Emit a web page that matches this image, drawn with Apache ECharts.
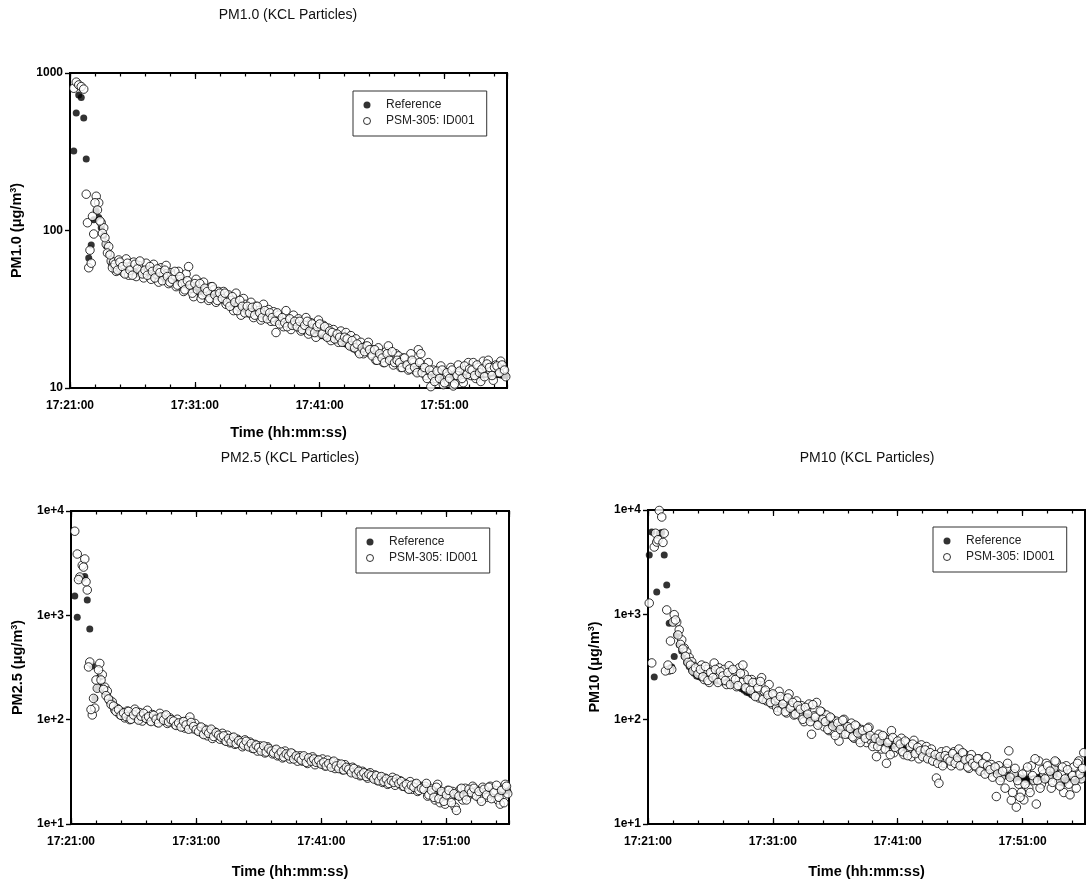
<!DOCTYPE html>
<html><head><meta charset="utf-8">
<script src="https://cdn.jsdelivr.net/npm/echarts@6/dist/echarts.min.js"></script>
<style>html,body{margin:0;padding:0;background:#fff}#c{width:1086px;height:883px}</style>
</head><body><div id="c"></div>
<script>
// ---------- data ----------
const clockStart = '17:21:00';        // x axis origin
const xMaxMinutes = 35;               // axis extent in minutes after clockStart
const sampleStepSec = 12;             // sampling step of each value list, seconds
const startSecA = 6;                  // first sample of the reference lists and PSM "A" lists
const startSecB = 12;                 // first sample of the interleaved PSM "B" lists
const seriesNames = ['Reference', 'PSM-305: ID001'];
const panelTitles = ['PM1.0 (KCL Particles)', 'PM2.5 (KCL Particles)', 'PM10 (KCL Particles)'];
const yNames = ['PM1.0 (μg/m{s|3})', 'PM2.5 (μg/m{s|3})', 'PM10 (μg/m{s|3})'];
const xName = 'Time (hh:mm:ss)';

const pm1Reference = [null,
320, 557, 725, 700, 518, 284, 67, 81, 117, 133,
121, 104, 93, 80, 71, 62, 58, 56, 55, 56,
54, 55, 53, 55, 54, 55, 53, 54, 52, 53,
52, 53, 51, 51, 52, 50, 50, 49, 49, 48,
48, 47, 47, 46, 45, 45, 44, 43, 43, 42,
41, 41, 40, 40, 39, 39, 38, 37.5, 37, 37,
36, 35.5, 35, 35, 34, 33.5, 33, 32.5, 32, 32,
31, 30.5, 30, 30, 29.5, 29, 28.5, 28.5, 28, 27.5,
27.5, 27, 26.5, 26.5, 26, 25.5, 25.5, 25, 24.5, 24.5,
24, 24, 23.5, 23, 23, 22.5, 22.5, 22, 22, 21.5,
21.5, 21, 21, 20.5, 20.5, 20, 19.8, 19.5, 19.3, 19,
18.8, 18.5, 18.3, 18, 17.8, 17.6, 17.4, 17.3, 17.1, 17,
16.8, 16.5, 16.2, 16, 15.8, 15.5, 15.3, 15.1, 14.9, 14.7,
14.5, 14.3, 14.1, 14, 13.9, 13.8, 13.7, 13.6, 13.5, 13.3,
13.1, 12.9, 12.7, 12.5, 12.3, 12.1, 12, 11.9, 11.8, 11.7,
11.7, 11.8, 12, 12.1, 12.2, 12.1, 12, 11.9, 12.1, 12.2,
12.3, 12.1, 12, 11.9, 12.1, 12.3, 12.2, 12, 11.9, 12.1,
12.2, 12.1, 12, 12];

const pm1PsmA = [null,
800, 875, 840, 820, 790, 170, 58, 62, 95, 165,
150, 112, 104, 82, 79, 64, 63, 55, 65, 57,
54, 66, 52, 59, 63, 51, 60, 55, 50, 62,
56, 49, 61, 53, 47, 58, 52, 60, 46, 54,
52, 44, 55, 47, 41, 53, 59, 43, 38, 49,
45, 37, 47, 40, 36, 44, 42, 35, 41, 38,
41, 34, 39, 36, 31, 40, 33, 29, 37, 34,
30, 35, 28, 33, 31, 27, 34, 29, 31.5, 26.5,
30.5, 22.5, 29, 26.5, 24.5, 31, 27, 23.5, 29, 25,
27.5, 23, 25.5, 28, 22, 26, 24, 21, 27, 23,
25, 21.5, 24, 20, 23.5, 22, 19.5, 23, 20.5, 22.5,
19, 21.5, 18, 20.5, 17, 19.5, 16.5, 18.5, 19.5, 16.5,
17.5, 15, 18, 16, 14.5, 17, 18.5, 15.5, 14, 16.5,
16, 13.5, 15.5, 14, 13, 16.5, 14.5, 12.8, 17.5, 16.5,
13.5, 12, 14.5, 10.2, 13, 11.5, 12.5, 13.8, 10.5, 11.8,
11, 13.5, 10.3, 12, 14, 11.3, 10.8, 13, 14.5, 12,
14.5, 11.5, 13.5, 11, 14.8, 12.5, 15, 12.8, 11.2, 14,
12.5, 14.8, 13, 11.8];

const pm1PsmB = [
null, null, null, null, null, null, 112, 75, 123, 150,
135, 115, 96, 90, 72, 70, 58, 61, 56, 63,
59, 53, 62, 56, 52, 61, 57, 64, 53, 56,
52, 59, 55, 50, 57, 54, 48, 56, 51, 47,
49, 55, 45, 51, 46, 42, 48, 45, 40, 46,
42, 46, 39, 43, 41, 37, 44, 39, 36, 40,
37, 40, 35, 33, 38, 35, 31, 36, 33, 30,
33, 30, 32.5, 29, 33, 30, 28, 31, 27.5, 30,
28, 26.5, 30, 25.5, 28, 26, 24.5, 27.5, 25, 26.5,
24.5, 26.5, 23.5, 25, 26.5, 23, 25.5, 22.5, 24.5, 25.5,
22, 24.5, 21, 23, 22.5, 20.5, 22, 21, 19.5, 21,
20.5, 18.5, 20, 18, 19, 16.5, 18, 17, 18.5, 17.5,
16, 17.5, 15, 16.5, 15.5, 14.5, 16.5, 15, 17, 14.5,
15, 14.5, 13.5, 15.5, 14, 13.2, 15, 13.5, 12.5, 14.5,
12.5, 13.5, 11.5, 13, 12, 11, 12.8, 11.5, 13, 10.8,
12.5, 11.5, 13, 10.6, 12, 12.8, 11.5, 13.8, 12.2, 13.2,
13, 12, 14, 12.5, 13.2, 11.8, 14.2, 13.5, 12, 13.5,
13.8, 12.5, 14, 13];

const pm25Reference = [null,
1530, 960, 2300, 2250, 2350, 1400, 740, 327, 160, 200,
256, 210, 185, 172, 158, 145, 135, 125, 116, 112,
110, 108, 108, 106, 107, 105, 104, 105, 103, 102,
102, 101, 100, 100, 99, 98, 97, 96, 95, 94,
93, 92, 90, 89, 88, 86, 85, 84, 82, 81,
80, 79, 77, 76, 75, 73, 72, 71, 69, 68,
67, 66, 64, 63, 62, 61, 60, 59, 58, 57,
57, 56, 55, 55, 54, 53, 53, 52, 51, 51,
50, 49, 49, 48, 47, 47, 46, 45, 45, 44,
44, 43, 43, 42, 41, 41, 40, 40, 39, 39,
38, 37.5, 37, 36.5, 36, 35.5, 35, 34, 33.5, 33,
32.5, 32, 31.5, 31, 30.5, 30, 29.5, 29, 28.7, 28.4,
28, 27.6, 27.2, 26.8, 26.4, 26, 25.6, 25.2, 24.8, 24.5,
24.2, 23.9, 23.6, 23.3, 23, 22.7, 22.4, 22.2, 22, 21.8,
21.6, 21.4, 21.2, 21, 20.8, 20.6, 20.4, 20.2, 20, 20,
19.5, 19, 18.5, 18.3, 19, 19.8, 20.8, 21, 21, 20.8,
20.6, 20.5, 20.4, 20.6, 20.8, 21, 20.8, 20.6, 20.5, 20.4,
20.3, 20.5, 20.7, 20.8];

const pm25PsmA = [null,
6400, 3870, 2330, 3020, 3470, 1750, 357, 111, 129, 200,
346, 270, 205, 188, 152, 148, 124, 128, 112, 118,
104, 121, 100, 114, 126, 102, 117, 97, 112, 123,
98, 112, 103, 94, 115, 99, 108, 92, 104, 97,
90, 101, 87, 95, 83, 98, 106, 82, 92, 79,
84, 74, 81, 70, 78, 66, 76, 72, 65, 74,
63, 71, 60, 67, 58, 65, 62, 55, 64, 57,
61, 53, 58, 50, 56, 52, 48, 55, 51, 47,
51, 45, 48, 43, 50, 46, 42, 47, 44, 40,
45, 40, 43, 38, 42, 44, 37, 41, 38.5, 42,
36, 41, 37, 39, 34, 38, 35, 33, 37, 34.5,
32, 35, 31, 33, 29, 32, 30.5, 27.5, 31, 28,
29.5, 26, 28, 25, 27.5, 24, 26.5, 28, 23.5, 25.5,
26, 23, 24.5, 22, 25.5, 21.5, 24, 20.5, 23, 22.5,
23, 18.5, 22, 20, 17, 24, 16, 19.5, 15.5, 21,
18, 20.5, 14.5, 19, 21.5, 17, 22, 18.5, 20, 23,
19, 21, 17.5, 22.5, 20, 18, 23, 19.5, 21, 17,
15.5, 22, 24, 19.5];

const pm25PsmB = [
null, null, 2200, null, 2900, 2100, 320, 125, 160, 240,
300, 240, 195, 170, 158, 140, 135, 120, 125, 110,
116, 107, 120, 101, 111, 119, 99, 108, 115, 103,
107, 96, 110, 101, 93, 106, 99, 111, 95, 100,
97, 88, 93, 85, 96, 89, 81, 94, 86, 80,
77, 85, 72, 79, 74, 81, 69, 75, 71, 68,
70, 62, 66, 61, 68, 59, 63, 60, 57, 62,
55, 59, 53, 57, 54, 50, 56, 49, 53, 50,
48, 52, 46, 49, 44, 47, 45, 48, 42, 45,
43, 41, 45, 39, 43, 40, 42, 39, 41, 37.5,
39, 36, 38, 35, 40, 36, 34, 37.5, 33, 35,
33.5, 31, 34, 30, 32, 29.5, 31, 28.5, 30, 29,
27, 29, 26, 28.5, 25.5, 27, 24.5, 26, 25, 27,
24.5, 25.5, 23, 24, 21.5, 23.5, 22.5, 24.5, 21, 22,
21.5, 24.5, 19, 21, 18, 22.5, 17.5, 20.5, 16.5, 19,
21, 16, 19.5, 13.5, 18.5, 22, 19, 17, 21.5, 20,
22, 18.5, 20.5, 16.5, 21.5, 19, 22.5, 17.5, 20, 23.5,
18, 21, 16, 23];

const pm10Reference = [
3720, 6170, 254, 1650, 6000, 6100, 3720, 1920, 830, 316,
398, 640, 515, 450, 400, 350, 320, 295, 275, 260,
255, 250, 249, 244, 243, 238, 238, 233, 232, 228,
227, 222, 221, 216, 215, 209, 205, 196, 190, 181,
178, 172, 170, 164, 162, 156, 154, 148, 146, 141,
140, 135, 134, 129, 128, 124, 123, 119, 118, 114,
113, 110, 109, 106, 105, 102, 101, 98, 97, 94,
93, 91, 90, 88, 87, 85, 85, 82, 82, 80,
79, 77, 77, 74, 74, 72, 71, 69, 69, 66,
66, 64, 63, 60, 59, 57, 57, 56, 56, 55,
55, 53, 54, 52, 52, 51, 51, 49, 49, 47,
47, 45, 45, 43, 44, 42, 42, 41, 42, 40,
41, 42, 43, 44, 43, 41, 41, 39, 39, 37,
37, 35, 35, 34, 34, 32, 33, 31, 32, 30,
31, 29, 30, 29, 29, 28, 29, 27, 28, 27,
27.5, 26.5, 27, 26, 27, 27, 28, 28.5, 28, 26.5,
28, 30, 33, 31, 28, 25, 24.5, 26, 27, 28,
27, 26, 27, 28.5, 28];

const pm10PsmA = [
1290, 346, 4430, 4940, 9900, 8570, 6000, 1110, 296, 300,
1000, 850, 716, 575, 480, 440, 390, 355, 320, 300,
285, 330, 240, 300, 225, 275, 345, 250, 310, 235,
300, 215, 325, 250, 290, 205, 310, 225, 270, 195,
205, 240, 170, 225, 160, 250, 185, 150, 215, 140,
170, 130, 185, 125, 155, 115, 175, 135, 110, 150,
110, 135, 95, 125, 140, 72, 108, 145, 92, 118,
85, 110, 78, 102, 75, 96, 62, 88, 100, 74,
72, 92, 66, 86, 64, 80, 70, 60, 84, 62,
58, 44, 72, 52, 68, 38, 64, 78, 48, 60,
52, 66, 46, 60, 50, 44, 63, 48, 42, 57,
46, 55, 43, 52, 40, 27.5, 24.5, 49, 38, 50,
44, 36, 49, 40, 52, 37, 47, 42, 34, 46,
40, 35, 42, 33, 38, 44, 31, 37, 34, 18.3,
36, 28, 32, 34, 50, 16.9, 30, 14.5, 24, 20,
17, 32, 22, 36, 26, 15.5, 40, 24, 30, 38,
28, 22, 34, 39, 26, 30, 20, 36, 24, 31,
35, 22, 40, 27, 48];

const pm10PsmB = [
null, null, 6000, 5200, null, 4900, 290, 330, 560, 850,
890, 640, 520, 470, 400, 350, 330, 290, 310, 270,
300, 255, 320, 235, 280, 250, 300, 225, 285, 260,
235, 280, 215, 300, 240, 210, 275, 330, 200, 240,
190, 225, 165, 200, 230, 155, 190, 170, 145, 175,
150, 120, 165, 140, 118, 160, 128, 145, 112, 135,
125, 100, 130, 112, 95, 138, 105, 88, 120, 100,
95, 80, 105, 86, 70, 92, 80, 98, 72, 85,
82, 68, 88, 74, 60, 78, 66, 82, 70, 55,
66, 55, 62, 70, 52, 60, 46, 67, 54, 62,
58, 49, 62, 45, 55, 58, 47, 54, 50, 44,
51, 42, 48, 40, 46, 38, 44, 36, 45, 42,
40, 47, 38, 43, 36, 48, 41, 35, 42, 38,
36, 42, 32, 38, 30, 36, 33, 28, 35, 30,
26, 32, 22, 38, 28, 20, 34, 26, 18, 30,
24, 35, 20, 29, 42, 26, 22, 33, 27, 36,
32, 25, 40, 29, 23, 35, 27, 33, 19, 29,
26, 38, 30, 34];

// ---------- layout / style ----------
const FONT = "'Liberation Sans', Arial, sans-serif";
const panels = [
  {grid:{left:70, top:73, width:437, height:315}, titleX:288, titleY:8, legend:{left:353, top:91},
   yMin:10, yMax:1000, expLabels:false, ref:pm1Reference, psmA:pm1PsmA, psmB:pm1PsmB, xNameGap:37},
  {grid:{left:71, top:511, width:438, height:313}, titleX:290, titleY:451, legend:{left:356, top:528},
   yMin:10, yMax:10000, expLabels:true, ref:pm25Reference, psmA:pm25PsmA, psmB:pm25PsmB, xNameGap:40},
  {grid:{left:648, top:510, width:437, height:314}, titleX:867, titleY:451, legend:{left:933, top:527},
   yMin:10, yMax:10000, expLabels:true, ref:pm10Reference, psmA:pm10PsmA, psmB:pm10PsmB, xNameGap:40}
];

function clockLabel(min) {
  if (Math.abs(min % 10) > 1e-6) return '';
  const p = clockStart.split(':').map(Number);
  const t = p[0]*3600 + p[1]*60 + p[2] + Math.round(min*60);
  return [Math.floor(t/3600), Math.floor(t%3600/60), t%60].map(n => String(n).padStart(2,'0')).join(':');
}
function toPoints(vals, startSec) {
  const out = [];
  vals.forEach((v, i) => { if (v != null) out.push([(startSec + i*sampleStepSec)/60, v]); });
  return out;
}

const tickStyle = {color:'#000', width:1.2};
const labelStyle = {fontFamily:FONT, fontSize:12, fontWeight:'bold', color:'#000'};
const nameStyle = {fontFamily:FONT, fontSize:14.5, fontWeight:'bold', color:'#000'};

const option = {animation:false, backgroundColor:'#fff', grid:[], xAxis:[], yAxis:[], series:[], title:[], legend:[]};

panels.forEach((p, g) => {
  option.grid.push(Object.assign({show:true, borderColor:'#000', borderWidth:2, backgroundColor:'rgba(0,0,0,0)'}, p.grid));
  option.title.push({text:panelTitles[g], left:p.titleX, top:p.titleY, textAlign:'center', padding:0,
    textStyle:{fontFamily:FONT, fontSize:14, fontWeight:'normal', color:'#111'}});
  const common = {gridIndex:g, type:'value', min:0, max:xMaxMinutes, axisLine:{show:false},
    splitLine:{show:false}, minorTick:{show:false}};
  option.xAxis.push(
    Object.assign({}, common, {position:'bottom', interval:10,
      axisTick:{show:true, inside:true, length:6, lineStyle:tickStyle},
      axisLabel:Object.assign({formatter:clockLabel, margin:12, showMaxLabel:false}, labelStyle),
      name:xName, nameLocation:'middle', nameGap:p.xNameGap, nameTextStyle:nameStyle}),
    Object.assign({}, common, {position:'bottom', interval:2,
      axisTick:{show:true, inside:true, length:3.5, lineStyle:tickStyle}, axisLabel:{show:false}}),
    Object.assign({}, common, {position:'top', interval:10,
      axisTick:{show:true, inside:true, length:6, lineStyle:tickStyle}, axisLabel:{show:false}}),
    Object.assign({}, common, {position:'top', interval:2,
      axisTick:{show:true, inside:true, length:3.5, lineStyle:tickStyle}, axisLabel:{show:false}})
  );
  const yCommon = {gridIndex:g, type:'log', logBase:10, min:p.yMin, max:p.yMax, axisLine:{show:false},
    splitLine:{show:false}, minorTick:{show:false}, minorSplitLine:{show:false}};
  option.yAxis.push(
    Object.assign({}, yCommon, {position:'left',
      axisTick:{show:true, inside:false, length:5, lineStyle:tickStyle},
      axisLabel:Object.assign({margin:7, formatter: v => p.expLabels ? '1e+' + Math.round(Math.log10(v)) : String(Math.round(v))}, labelStyle),
      name:yNames[g], nameLocation:'middle', nameGap:46, nameRotate:90,
      nameTextStyle:Object.assign({rich:{s:{fontFamily:FONT, fontSize:9, fontWeight:'bold', color:'#000', verticalAlign:'top', lineHeight:9}}}, nameStyle)}),
    Object.assign({}, yCommon, {position:'right',
      axisTick:{show:true, inside:true, length:5, lineStyle:tickStyle}, axisLabel:{show:false}})
  );
  const psmPoints = toPoints(p.psmA, startSecA).concat(toPoints(p.psmB, startSecB));
  option.series.push(
    {type:'scatter', name:seriesNames[0], xAxisIndex:4*g, yAxisIndex:2*g, data:toPoints(p.ref, startSecA),
     symbol:'circle', symbolSize:7, itemStyle:{color:'#000'}, z:2, silent:true},
    {type:'scatter', name:seriesNames[1], xAxisIndex:4*g, yAxisIndex:2*g, data:psmPoints,
     symbol:'circle', symbolSize:8.5, itemStyle:{color:'#fff', borderColor:'#000', borderWidth:1}, z:3, silent:true}
  );
  option.legend.push({left:p.legend.left, top:p.legend.top, orient:'vertical', selectedMode:false,
    data:[{name:seriesNames[0], icon:'circle', itemStyle:{color:'#000'}},
          {name:seriesNames[1], icon:'circle', itemStyle:{color:'#fff', borderColor:'#000', borderWidth:1}}],
    itemWidth:28, itemHeight:7, itemGap:4, padding:[8,12,9,10],
    borderColor:'#333', borderWidth:1, borderRadius:0, backgroundColor:'#fff',
    textStyle:{fontFamily:FONT, fontSize:12, color:'#222'}});
});

const chart = echarts.init(document.getElementById('c'), null, {renderer:'canvas', width:1086, height:883});
chart.setOption(option);
</script>
</body></html>
